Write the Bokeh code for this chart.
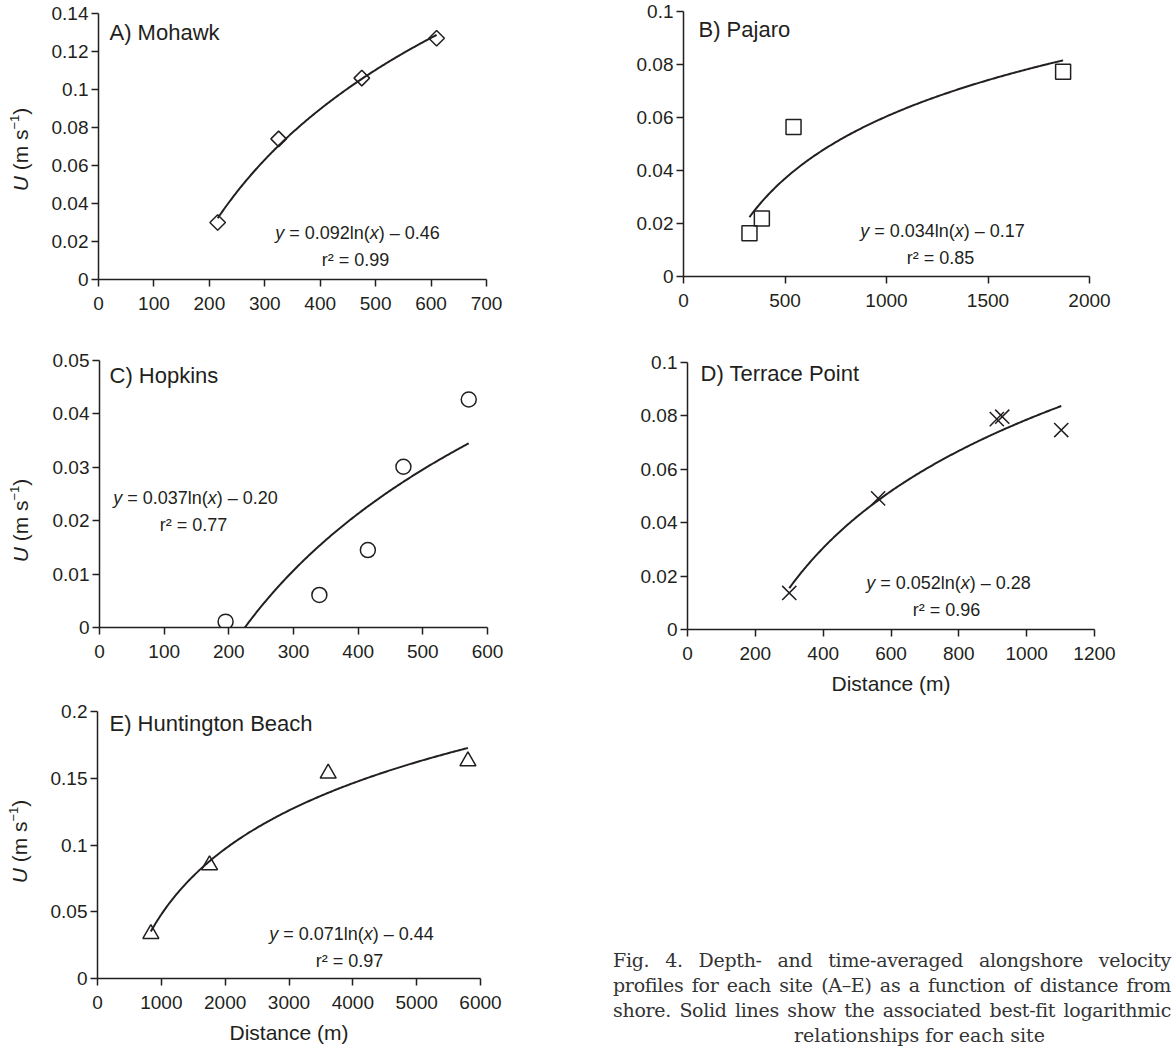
import numpy as np
from bokeh.plotting import figure
from bokeh.models import Range1d, FixedTicker, Label, Div
from bokeh.core.properties import value
from bokeh.layouts import row, column
from bokeh.embed import file_html
from bokeh.resources import INLINE

# ---------------- data ----------------
mohawk_x = [215, 325, 475, 610]
mohawk_u = [0.030, 0.074, 0.106, 0.127]

pajaro_x = [325, 386, 542, 1870]
pajaro_u = [0.0163, 0.0219, 0.0564, 0.0773]

hopkins_x = [195, 340, 415, 470, 571]
hopkins_u = [0.0011, 0.0061, 0.0145, 0.0301, 0.0427]

terrace_x = [300, 562, 912, 928, 1102]
terrace_u = [0.0137, 0.0491, 0.0788, 0.0797, 0.0747]

huntington_x = [836, 1755, 3614, 5803]
huntington_u = [0.0335, 0.085, 0.1536, 0.1628]

titles = ["A) Mohawk", "B) Pajaro", "C) Hopkins", "D) Terrace Point", "E) Huntington Beach"]
slopes = ["0.092", "0.034", "0.037", "0.052", "0.071"]
intercepts = ["0.46", "0.17", "0.20", "0.28", "0.44"]
r2_values = ["0.99", "0.85", "0.77", "0.96", "0.97"]

a_xticks = [0, 100, 200, 300, 400, 500, 600, 700]
a_xlabels = ["0", "100", "200", "300", "400", "500", "600", "700"]
a_yticks = [0, 0.02, 0.04, 0.06, 0.08, 0.1, 0.12, 0.14]
a_ylabels = ["0", "0.02", "0.04", "0.06", "0.08", "0.1", "0.12", "0.14"]

b_xticks = [0, 500, 1000, 1500, 2000]
b_xlabels = ["0", "500", "1000", "1500", "2000"]
b_yticks = [0, 0.02, 0.04, 0.06, 0.08, 0.1]
b_ylabels = ["0", "0.02", "0.04", "0.06", "0.08", "0.1"]

c_xticks = [0, 100, 200, 300, 400, 500, 600]
c_xlabels = ["0", "100", "200", "300", "400", "500", "600"]
c_yticks = [0, 0.01, 0.02, 0.03, 0.04, 0.05]
c_ylabels = ["0", "0.01", "0.02", "0.03", "0.04", "0.05"]

d_xticks = [0, 200, 400, 600, 800, 1000, 1200]
d_xlabels = ["0", "200", "400", "600", "800", "1000", "1200"]
d_yticks = [0, 0.02, 0.04, 0.06, 0.08, 0.1]
d_ylabels = ["0", "0.02", "0.04", "0.06", "0.08", "0.1"]

e_xticks = [0, 1000, 2000, 3000, 4000, 5000, 6000]
e_xlabels = ["0", "1000", "2000", "3000", "4000", "5000", "6000"]
e_yticks = [0, 0.05, 0.1, 0.15, 0.2]
e_ylabels = ["0", "0.05", "0.1", "0.15", "0.2"]

y_label_parts = ["U", " (m s", "\u22121", ")"]
x_label = "Distance (m)"

caption_lines = [
    "Fig. 4. Depth- and time-averaged alongshore velocity",
    "profiles for each site (A\u2013E) as a function of distance from",
    "shore. Solid lines show the associated best-fit logarithmic",
    "relationships for each site",
]

# ---------------- styling / layout ----------------
INK = "#231f20"
FONT = "Liberation Sans"
TICK_SIZE = 19
STRIP_W = 40

ARIAL = {' ': 278, '=': 584, '.': 278, 'l': 222, 'n': 556, '(': 333, ')': 333,
         '\u2013': 556, 'y': 500, 'x': 500, 'r': 333, '\u00b2': 333, 'U': 722,
         'm': 833, 's': 500, '\u2212': 584}


def tw(s, size):
    return sum(ARIAL.get(c, 556) for c in s) / 1000.0 * size


def make_panel(g, xs, us, xticks, xlabels, yticks, ylabels, marker, msize,
               title, slope, inter, r2, mangle=0.0, show_xlabel=False):
    p = figure(width=g["W"], height=g["H"], output_backend="svg", toolbar_location=None,
               x_range=Range1d(xticks[0], xticks[-1]), y_range=Range1d(yticks[0], yticks[-1]),
               min_border_left=g["l"], min_border_top=g["t"],
               min_border_right=g["W"] - g["l"] - g["w"],
               min_border_bottom=g["H"] - g["t"] - g["h"])
    p.frame_align = False
    p.outline_line_color = None
    p.xgrid.visible = False
    p.ygrid.visible = False
    for ax, ticks, labels in ((p.xaxis, xticks, xlabels), (p.yaxis, yticks, ylabels)):
        ax.ticker = FixedTicker(ticks=ticks)
        ax.major_label_overrides = dict(zip(ticks, labels))
        ax.axis_line_color = INK
        ax.axis_line_width = 1.5
        ax.major_tick_line_color = INK
        ax.major_tick_line_width = 1.5
        ax.major_tick_out = 7
        ax.major_tick_in = 0
        ax.minor_tick_line_color = None
        ax.major_label_text_font = FONT
        ax.major_label_text_font_size = f"{TICK_SIZE}px"
        ax.major_label_text_color = INK
    p.xaxis.major_label_standoff = 10
    p.yaxis.major_label_standoff = 3
    if show_xlabel:
        p.xaxis.axis_label = x_label
        p.xaxis.axis_label_text_font = FONT
        p.xaxis.axis_label_text_font_size = "21px"
        p.xaxis.axis_label_text_font_style = "normal"
        p.xaxis.axis_label_text_color = INK
        p.xaxis.axis_label_standoff = 9

    x0, x1 = xticks[0], xticks[-1]
    y0, y1 = yticks[0], yticks[-1]

    def to_data(px, py):
        fx = g["X"] + g["l"]
        fy = g["Y"] + g["t"]
        return (x0 + (px - fx) / g["w"] * (x1 - x0), y1 - (py - fy) / g["h"] * (y1 - y0))

    def txt(px, py, text, size, style="normal", align="left"):
        x, y = to_data(px, py)
        p.add_layout(Label(x=x, y=y, text=text, text_font=FONT, text_font_size=f"{size}px",
                           text_font_style=style, text_align=align, text_baseline="middle",
                           text_color=INK))

    # best-fit logarithmic trendline
    k, c = np.polyfit(np.log(xs), us, 1)
    lx = np.linspace(min(xs), max(xs), 200)
    p.line(lx, k * np.log(lx) + c, line_color=INK, line_width=2)
    p.scatter(xs, us, marker=marker, size=msize, angle=mangle, line_color=INK,
              fill_color=None, line_width=1.5)

    # panel title
    txt(g["tx"], g["ty"], title, 22)
    # equation, with italic y and x
    parts = [("y", "italic"), (f" = {slope}ln(", "normal"), ("x", "italic"), (f") \u2013 {inter}", "normal")]
    total = sum(tw(s, 18) for s, _ in parts)
    cx = g["ex"] - total / 2
    for s, st in parts:
        lead = len(s) - len(s.lstrip(" "))
        cx += tw(" " * lead, 18)
        body = s.lstrip(" ")
        txt(cx, g["ey"], body, 18, st)
        cx += tw(body, 18)
    txt(g["ex"] - 2, g["ey"] + 27.5, f"r\u00b2 = {r2}", 18, align="center")
    return p


def make_strip(H, rowY, lx, ly):
    """Narrow figure that carries the rotated y-axis title U (m s-1)."""
    s = figure(width=STRIP_W, height=H, output_backend="svg", toolbar_location=None,
               x_range=Range1d(0, STRIP_W), y_range=Range1d(0, H),
               x_axis_location=None, y_axis_location=None, min_border=0)
    s.frame_align = False
    s.outline_line_color = None
    s.xgrid.visible = False
    s.ygrid.visible = False
    sizes = [21, 21, 13, 21]
    styles = ["italic", "normal", "normal", "normal"]
    raise_ = [0, 0, 6, 0]
    total = sum(tw(t, z) for t, z in zip(y_label_parts, sizes))
    py = ly + total / 2
    for t, z, st, rs in zip(y_label_parts, sizes, styles, raise_):
        lead = len(t) - len(t.lstrip(" "))
        py -= tw(" " * lead, z)
        body = t.lstrip(" ")
        s.text(x=[lx - rs], y=[H - (py - rowY)], text=[body], angle=np.pi / 2,
               text_font=value(FONT), text_font_size=f"{z}px", text_font_style=st,
               text_align="left", text_baseline="middle", text_color=INK)
        py -= tw(body, z)
    return s


gA = dict(X=STRIP_W, Y=0, W=600 - STRIP_W, H=330, l=98 - STRIP_W, t=13, w=388, h=266, tx=109, ty=32, ex=357, ey=232)
gB = dict(X=600, Y=0, W=575, H=330, l=83, t=11, w=406, h=265, tx=698, ty=29, ex=942, ey=230)
gC = dict(X=STRIP_W, Y=330, W=600 - STRIP_W, H=370, l=99 - STRIP_W, t=30, w=388, h=267, tx=109, ty=375, ex=195, ey=497)
gD = dict(X=600, Y=330, W=575, H=370, l=87, t=32, w=407, h=267, tx=700, ty=373, ex=948, ey=582)
gE = dict(X=STRIP_W, Y=700, W=600 - STRIP_W, H=350, l=97 - STRIP_W, t=11, w=383, h=267, tx=109, ty=723, ex=351, ey=933)

pA = make_panel(gA, mohawk_x, mohawk_u, a_xticks, a_xlabels, a_yticks, a_ylabels,
                "square", 11, titles[0], slopes[0], intercepts[0], r2_values[0], mangle=np.pi / 4)
pB = make_panel(gB, pajaro_x, pajaro_u, b_xticks, b_xlabels, b_yticks, b_ylabels,
                "square", 15, titles[1], slopes[1], intercepts[1], r2_values[1])
pC = make_panel(gC, hopkins_x, hopkins_u, c_xticks, c_xlabels, c_yticks, c_ylabels,
                "circle", 15, titles[2], slopes[2], intercepts[2], r2_values[2])
pD = make_panel(gD, terrace_x, terrace_u, d_xticks, d_xlabels, d_yticks, d_ylabels,
                "x", 20, titles[3], slopes[3], intercepts[3], r2_values[3], show_xlabel=True)
pE = make_panel(gE, huntington_x, huntington_u, e_xticks, e_xlabels, e_yticks, e_ylabels,
                "triangle", 16, titles[4], slopes[4], intercepts[4], r2_values[4], show_xlabel=True)

sA = make_strip(330, 0, 20, 149)
sC = make_strip(370, 330, 20, 520)
sE = make_strip(350, 700, 19, 841)

lines_html = "".join(
    f'<div style="width:558px;letter-spacing:-0.3px;text-align:justify;text-align-last:justify;">{ln}</div>'
    for ln in caption_lines[:-1]
) + f'<div style="width:613px;text-align:center;">{caption_lines[-1]}</div>'
caption = Div(
    width=575, height=350,
    styles={"overflow": "hidden"},
    text=(
        '<div style="margin-left:8px;padding-top:243px;'
        "font-family:'DejaVu Serif';font-size:19px;line-height:25px;color:#333333;\">"
        + lines_html + "</div>"
    ),
)

layout = column(row(sA, pA, pB), row(sC, pC, pD), row(sE, pE, caption))

open("out.html", "w").write(file_html(layout, INLINE))
